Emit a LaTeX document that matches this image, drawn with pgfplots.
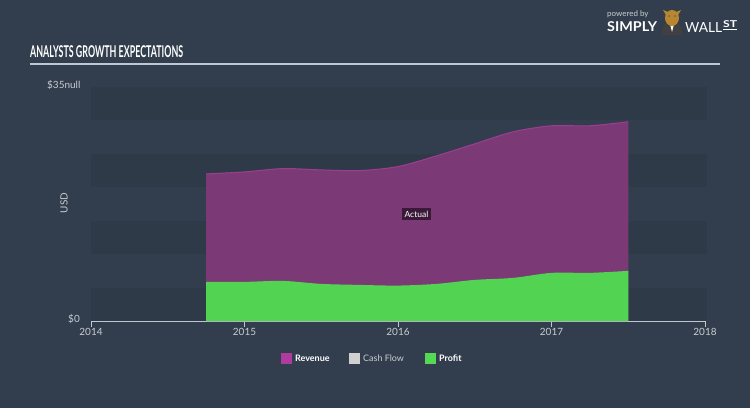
\documentclass[border=0pt]{standalone}
\usepackage{pgfplots}
\pgfplotsset{compat=1.18}
\usepackage{graphicx}
\usepackage{fontspec}
\setmainfont{Lato}
\definecolor{bg}{HTML}{323E4D}
\definecolor{band}{HTML}{2E3A48}
\definecolor{rev}{HTML}{7B3A76}
\definecolor{revedge}{HTML}{9A3F90}
\definecolor{prof}{HTML}{52D452}
\definecolor{txt}{HTML}{C9CDD2}
\definecolor{axisline}{HTML}{BFC8D0}
\definecolor{actbg}{HTML}{3A1A38}
\definecolor{legrev}{HTML}{AD3C9C}
\definecolor{legcf}{HTML}{D0D0D0}
\definecolor{legprof}{HTML}{55D955}
\definecolor{bull}{HTML}{B8862E}
\begin{document}
\begin{tikzpicture}[x=1bp,y=1bp]
\fill[bg] (0,0) rectangle (750,408);
% title
\node[anchor=west, text=white, inner sep=0] at (30,356) {\resizebox*{153bp}{12bp}{\bfseries ANALYSTS GROWTH EXPECTATIONS}};
\draw[axisline, line width=1.2bp] (30,344) -- (720,344);
% logo
\node[anchor=west, text=txt, inner sep=0, font=\fontsize{8}{9}\selectfont] at (607,394) {powered by};
\node[anchor=west, text=white, inner sep=0] at (607,381) {\resizebox*{50bp}{10bp}{\bfseries SIMPLY}};
\fill[black!75] (661,373) -- (664,384) -- (680,384) -- (683,373) -- cycle;
\fill[white] (670,384) -- (674,384) -- (672,376) -- cycle;
\fill[bull] (672,390) ellipse (7 and 8);
\fill[bull] (663,398) -- (666,393) -- (668,396) -- cycle;
\fill[bull] (681,398) -- (678,393) -- (676,396) -- cycle;
\fill[black!60] (669,392) circle (1);
\fill[black!60] (675,392) circle (1);
\node[anchor=west, text=white, inner sep=0] at (685,381) {\resizebox*{37bp}{10bp}{WALL}};
\node[anchor=west, text=white, inner sep=0] at (723,384) {\resizebox*{14bp}{7bp}{\bfseries ST}};
\draw[white, line width=0.8bp] (723,378.5) -- (737,378.5);
% y labels
\node[anchor=west, text=txt, inner sep=0, font=\fontsize{10}{12}\selectfont] at (47,323) {\$35null};
\node[anchor=east, text=txt, inner sep=0, font=\fontsize{10}{12}\selectfont] at (80,89) {\$0};
\node[rotate=90, text=txt, inner sep=0, font=\fontsize{10}{12}\selectfont] at (64,205) {USD};
\begin{axis}[
  at={(91bp,87bp)}, anchor=south west,
  scale only axis, width=614bp, height=234bp,
  xmin=2014, xmax=2018, ymin=0, ymax=35,
  axis x line=bottom, axis y line=none,
  axis line style={axisline, line width=1bp, -},
  xtick={2014,2015,2016,2017,2018},
  tick align=outside, major tick length=6bp,
  major tick style={axisline, line width=1bp},
  xticklabel style={text=txt, font=\fontsize{10}{12}\selectfont, yshift=2bp},
  /pgf/number format/1000 sep={},
  /pgf/number format/assume math mode=true,
  clip=false,
]
\fill[band] (axis cs:2014,0) rectangle (axis cs:2018.01,5);
\fill[band] (axis cs:2014,10) rectangle (axis cs:2018.01,15);
\fill[band] (axis cs:2014,20) rectangle (axis cs:2018.01,25);
\fill[band] (axis cs:2014,30) rectangle (axis cs:2018.01,35);
\addplot[fill=rev, draw=none, smooth] coordinates {
 (2014.75,22.0) (2015.0,22.3) (2015.25,22.8) (2015.5,22.6) (2015.75,22.5)
 (2016.0,23.1) (2016.25,24.7) (2016.5,26.5) (2016.75,28.3) (2017.0,29.2)
 (2017.25,29.2) (2017.5,29.8)} \closedcycle;
\addplot[draw=revedge, line width=1bp, smooth] coordinates {
 (2014.75,22.0) (2015.0,22.3) (2015.25,22.8) (2015.5,22.6) (2015.75,22.5)
 (2016.0,23.1) (2016.25,24.7) (2016.5,26.5) (2016.75,28.3) (2017.0,29.2)
 (2017.25,29.2) (2017.5,29.8)};
\addplot[fill=prof, draw=none, smooth] coordinates {
 (2014.75,5.85) (2015.0,5.85) (2015.25,6.0) (2015.5,5.55) (2015.75,5.4)
 (2016.0,5.3) (2016.25,5.55) (2016.5,6.15) (2016.75,6.45) (2017.0,7.2)
 (2017.25,7.2) (2017.5,7.5)} \closedcycle;
\node[fill=actbg, text=white, inner sep=2.5bp, font=\fontsize{8.5}{10}\selectfont] at (axis cs:2016.12,16.0) {Actual};
\end{axis}
% legend
\fill[legrev] (281,44.5) rectangle (292,55.5);
\node[anchor=west, text=white, inner sep=0, font=\bfseries\fontsize{9}{11}\selectfont] at (295,50) {Revenue};
\fill[legcf] (349,44.5) rectangle (360,55.5);
\node[anchor=west, text=txt, inner sep=0, font=\fontsize{9}{11}\selectfont] at (363,50) {Cash Flow};
\fill[legprof] (425,44.5) rectangle (436,55.5);
\node[anchor=west, text=white, inner sep=0, font=\bfseries\fontsize{9}{11}\selectfont] at (439,50) {Profit};
\end{tikzpicture}
\end{document}
